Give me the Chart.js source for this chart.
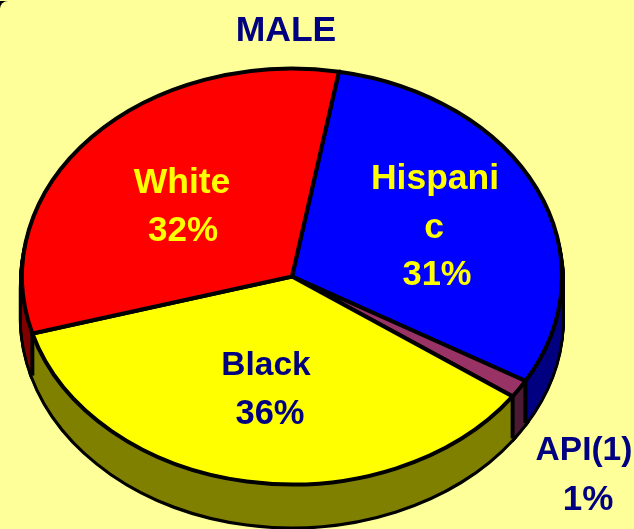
<!DOCTYPE html>
<html><head><meta charset="utf-8">
<script src="https://cdn.jsdelivr.net/npm/chart.js@4"></script>
<style>
html,body{margin:0;padding:0;background:#FFFF99;width:634px;height:529px;overflow:hidden}
#corner{position:absolute;left:0;top:1px;width:8px;height:7px;background:#000}
#panel{position:absolute;left:0;top:1px;width:634px;height:528px;background:#FFFF99;border-top-left-radius:8px}
#c{position:absolute;left:0;top:0}
</style></head><body>
<div id="corner"></div><div id="panel"></div>
<canvas id="c" width="634" height="529"></canvas>
<script>
const categories = ['Hispanic','API(1)','Black','White'];
const shares = [30.6,1.4,35.8,32.2];
const topColors = ['#0000FF','#993366','#FFFF00','#FF0000'];
const wallColors = ['#000080','#4D1A33','#808000','#800000'];
const chartTitle = 'MALE';

const ASPECT = 270/208, DEPTH = 42, LINE = 4;
const NAVY = '#000080', YEL = '#FFFF00';
const texts = [
  [chartTitle,286,31,NAVY,35.5],
  ['White',182,183,YEL,35.5],['32%',183,231,YEL,35],
  ['Hispani',435,179,YEL,35.5],['c',434,228,YEL,35.5],['31%',437,275,YEL,34.5],
  ['Black',266,366,NAVY,33.5],['36%',270,414,NAVY,34.5],
  ['API(1)',584,451,NAVY,33.5],['1%',588,500,NAVY,35]
];

const pie3d = {
  id:'pie3d',
  beforeDatasetsDraw(chart){
    const ctx = chart.ctx, arcs = chart.getDatasetMeta(0).data;
    const cx = arcs[0].x, cy = arcs[0].y, R = arcs[0].outerRadius;
    const place = d => { ctx.translate(cx,cy+d); ctx.scale(ASPECT,1); ctx.translate(-cx,-cy); };
    const paint = (d,fn) => arcs.forEach((a,i)=>{
      const o = a.options; a.options = Object.assign({},o,fn(i,o));
      ctx.save(); place(d);
      const st = ctx.stroke;
      ctx.stroke = function(){ const t=ctx.getTransform(); ctx.setTransform(1,0,0,1,0,0); st.call(ctx); ctx.setTransform(t); };
      a.draw(ctx);
      delete ctx.stroke;
      ctx.restore(); a.options = o;
    });
    // silhouette of the wall
    for(let d=DEPTH;d>=6;d--) paint(d,()=>({backgroundColor:'#000',borderColor:'#000',borderWidth:6}));
    // wall colours
    for(let d=DEPTH;d>=1;d--) paint(d,i=>({backgroundColor:wallColors[i],borderWidth:0}));
    // seams on the front of the wall
    ctx.save(); ctx.strokeStyle='#000'; ctx.lineWidth=LINE;
    arcs.forEach(a=>{
      if(Math.sin(a.startAngle)>0){
        const x=cx+Math.cos(a.startAngle)*R*ASPECT, y=cy+Math.sin(a.startAngle)*R;
        ctx.beginPath(); ctx.moveTo(x,y); ctx.lineTo(x,y+DEPTH); ctx.stroke();
      }
    });
    ctx.restore();
    // top face
    paint(0,()=>({}));
    return false;
  },
  afterDraw(chart){
    const ctx = chart.ctx; ctx.save();
    ctx.textAlign='center'; ctx.textBaseline='middle';
    texts.forEach(([s,x,y,c,size])=>{
      ctx.font='bold '+size+'px "Liberation Sans", Arial, sans-serif';
      ctx.fillStyle=c; ctx.fillText(s,x,y);
    });
    ctx.restore();
  }
};

new Chart(document.getElementById('c'),{
  type:'pie',
  data:{labels:categories,datasets:[{data:shares,backgroundColor:topColors,borderColor:'#000',borderWidth:LINE,borderJoinStyle:'miter'}]},
  options:{
    responsive:false,animation:false,rotation:10,
    layout:{padding:{left:82,right:132,top:66.5,bottom:42.5}},
    plugins:{legend:{display:false},tooltip:{enabled:false},title:{display:false}}
  },
  plugins:[pie3d]
});
</script>
</body></html>
